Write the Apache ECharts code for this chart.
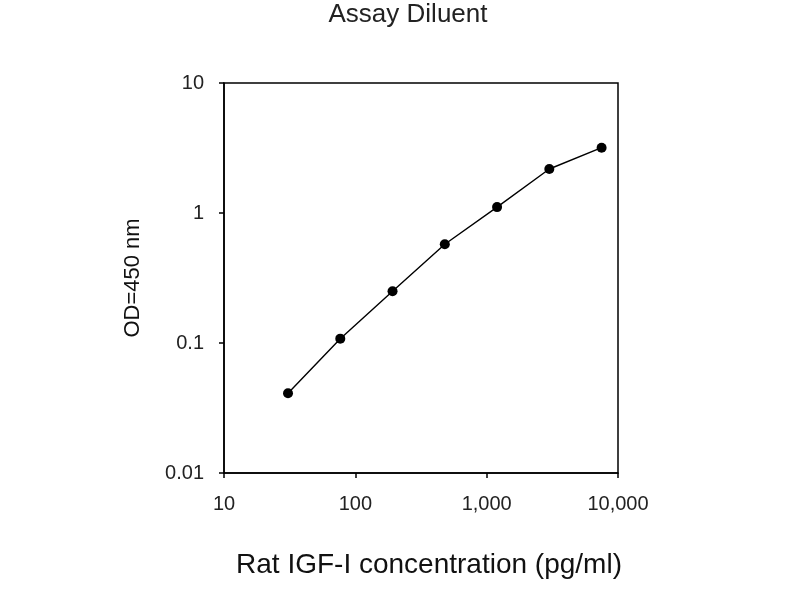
<!DOCTYPE html>
<html>
<head>
<meta charset="utf-8">
<script src="https://cdn.jsdelivr.net/npm/echarts@6/dist/echarts.min.js"></script>
<style>html,body{margin:0;padding:0;background:#fff}#c{width:800px;height:600px}</style>
</head>
<body>
<div id="c"></div>
<script>
const concentrations = [30.72, 76.8, 192, 480, 1200, 3000, 7500];
const odValues = [0.041, 0.108, 0.25, 0.575, 1.11, 2.18, 3.18];
const xTicks = [10, 100, 1000, 10000];
const yTicks = [0.01, 0.1, 1, 10];

const chart = echarts.init(document.getElementById('c'));
const fmt = v => {
  if (v >= 1000) return Math.round(v).toString().replace(/\B(?=(\d{3})+(?!\d))/g, ',');
  return String(+v.toPrecision(3));
};
const FONT = 'Liberation Sans, Arial';
chart.setOption({
  animation: false,
  backgroundColor: '#fff',
  title: {
    text: 'Assay Diluent',
    left: 403, top: -3, textAlign: 'center',
    textStyle: {fontFamily: FONT, fontSize: 26, fontWeight: 'normal', color: '#222'}
  },
  grid: {left: 224, right: 182, top: 83, bottom: 127, show: true, borderColor: '#000', borderWidth: 1.5, containLabel: false},
  xAxis: {
    type: 'log', logBase: 10, min: xTicks[0], max: xTicks[xTicks.length - 1],
    name: 'Rat IGF-I concentration (pg/ml)', nameLocation: 'middle', nameGap: 78,
    nameTextStyle: {fontFamily: FONT, fontSize: 28, color: '#111', padding: [0, 0, 0, 16]},
    axisLine: {lineStyle: {color: '#000', width: 1.5}},
    axisTick: {show: true, inside: false, length: 5, lineStyle: {color: '#000', width: 1.5}},
    minorTick: {show: false},
    splitLine: {show: false},
    axisLabel: {fontFamily: FONT, fontSize: 20, color: '#222', margin: 21, formatter: fmt}
  },
  yAxis: {
    type: 'log', logBase: 10, min: yTicks[0], max: yTicks[yTicks.length - 1],
    name: 'OD=450 nm', nameLocation: 'middle', nameGap: 80, nameRotate: 90,
    nameTextStyle: {fontFamily: FONT, fontSize: 22, color: '#111'},
    axisLine: {lineStyle: {color: '#000', width: 1.5}},
    axisTick: {show: true, inside: false, length: 5, lineStyle: {color: '#000', width: 1.5}},
    splitLine: {show: false},
    axisLabel: {fontFamily: FONT, fontSize: 20, color: '#222', margin: 20, formatter: fmt}
  },
  series: [{
    type: 'line',
    data: concentrations.map((c, i) => [c, odValues[i]]),
    symbol: 'circle', symbolSize: 10,
    itemStyle: {color: '#000'},
    lineStyle: {color: '#000', width: 1.4}
  }]
});
</script>
</body>
</html>
